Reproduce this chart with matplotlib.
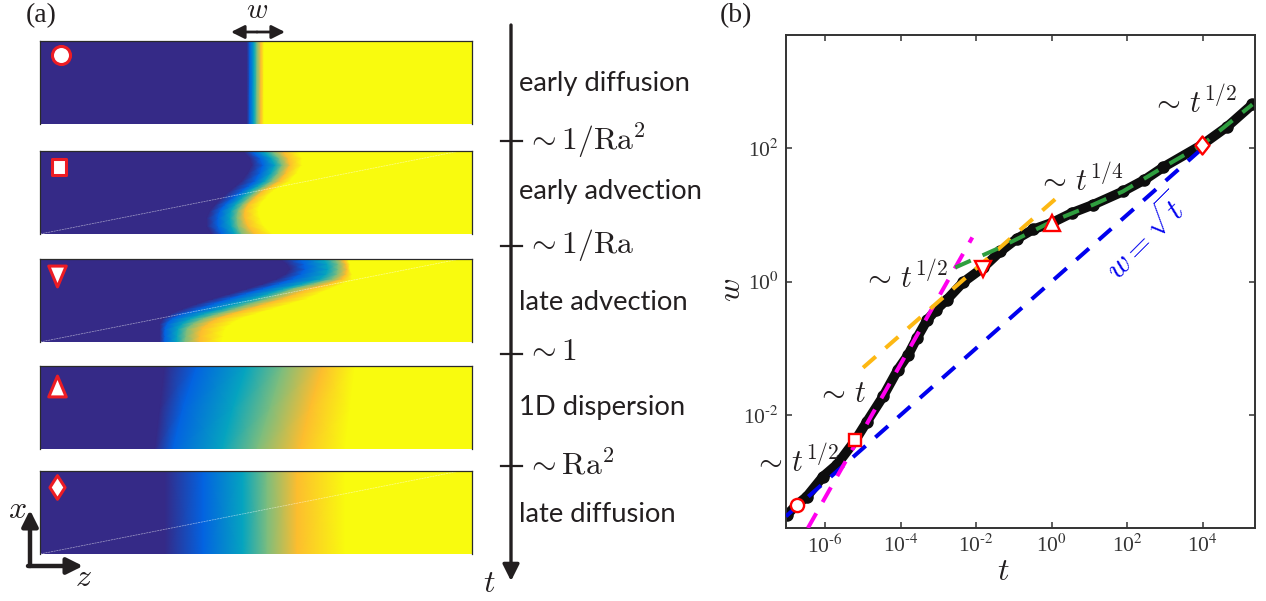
import numpy as np
from matplotlib import pyplot as plt
from matplotlib.colors import LinearSegmentedColormap
from matplotlib.path import Path

plt.rcParams['mathtext.fontset'] = 'cm'
plt.rcParams['font.family'] = ['Liberation Serif', 'DejaVu Sans']

W, H = 1266, 601

# (a) iso-level positions in z, one row per height x (bottom to top)
levels = [0, 0.125, 0.375, 0.625, 0.875, 1]
level_colors = ['#352a87', '#0363e1', '#05a5bf', '#7abd80', '#fdbb30', '#f9fb0e']

rows_1 = [0, 83]
front_1 = [[207, 210, 214, 217, 221, 224],
           [207, 210, 214, 217, 221, 224]]

rows_2 = [0, 8, 16, 23, 29, 36, 43, 48, 53, 61, 69, 76, 83]
front_2 = [[172, 182, 195, 202, 215, 233],
           [167, 178, 191, 198, 208, 224],
           [167, 178, 190, 197, 205, 220],
           [170, 180, 191, 198, 205, 218],
           [175, 185, 195, 202, 208, 220],
           [182, 193, 202, 209, 215, 226],
           [190, 202, 210, 217, 223, 233],
           [196, 209, 218, 225, 232, 242],
           [202, 215, 225, 232, 240, 250],
           [208, 220, 231, 238, 246, 257],
           [212, 223, 235, 242, 250, 262],
           [210, 220, 231, 239, 248, 262],
           [203, 212, 223, 232, 243, 258]]

rows_3 = [0, 6, 13, 18, 23, 28, 33, 38, 43, 48, 53, 58, 63, 68, 73, 78, 83]
front_3 = [[120, 125, 137, 145, 160, 182],
           [120, 125, 137, 146, 160, 183],
           [120, 125, 138, 147, 162, 185],
           [120, 127, 142, 153, 168, 191],
           [123, 132, 150, 163, 177, 200],
           [131, 144, 164, 178, 192, 216],
           [143, 160, 182, 195, 210, 233],
           [157, 174, 197, 210, 226, 250],
           [173, 190, 213, 227, 243, 267],
           [190, 206, 228, 240, 256, 278],
           [207, 223, 243, 253, 270, 290],
           [223, 239, 262, 274, 288, 302],
           [237, 253, 280, 292, 302, 312],
           [246, 261, 286, 297, 306, 312],
           [250, 265, 288, 298, 307, 310],
           [247, 264, 287, 298, 306, 310],
           [240, 260, 283, 295, 303, 308]]

rows_4 = [0, 41, 83]
front_4 = [[115, 133, 182, 217, 260, 305],
           [120, 143, 193, 230, 270, 310],
           [125, 157, 207, 243, 283, 315]]

rows_5 = [0, 83]
front_5 = [[125, 163, 203, 227, 257, 305],
           [125, 163, 203, 227, 257, 305]]

panel_tops = [41, 151, 259, 366, 471]
panel_has_seam = [False, True, True, False, True]
panel_rows = [rows_1, rows_2, rows_3, rows_4, rows_5]
panel_fronts = [front_1, front_2, front_3, front_4, front_5]

phase_names = ['early diffusion', 'early advection', 'late advection', '1D dispersion', 'late diffusion']
phase_y = [83, 190, 301, 407, 514]
scale_labels = [r'$\sim 1/\mathrm{Ra}^2$', r'$\sim 1/\mathrm{Ra}$', r'$\sim 1$', r'$\sim \mathrm{Ra}^2$']
scale_y = [141, 246, 354, 466]

# (b) log10 of t and w
log_t = [-7.0, -6.74, -6.48, -6.05, -5.68, -5.2, -4.89, -4.46, -4.07, -3.8, -3.56, -3.3, -3.05, -2.77,
         -2.34, -1.81, -1.36, -0.92, -0.49, 0.01, 0.55, 1.10, 1.89, 2.45, 2.95, 3.99, 4.65, 5.31]
log_w = [-3.49, -3.34, -3.22, -2.92, -2.74, -2.38, -2.10, -1.72, -1.32, -1.10, -0.84, -0.58, -0.42, -0.27,
         -0.01, 0.21, 0.45, 0.64, 0.78, 0.88, 1.03, 1.15, 1.35, 1.52, 1.71, 2.05, 2.32, 2.65]

blue_t, blue_w = [-7.03, 3.95], [-3.515, 1.975]
magenta_t, magenta_w = [-6.45, -2.1], [-3.69, 0.66]
orange_t, orange_w = [-4.99, 0.15], [-1.29, 1.26]
green_t = [-2.55, -1.36, 0.01, 1.10, 1.89, 2.95, 3.99, 5.31]
green_w = [0.21, 0.51, 0.90, 1.15, 1.35, 1.71, 2.05, 2.65]

marker_t = [-6.74, -5.2, -1.81, 0.01, 3.99]
marker_w = [-3.34, -2.38, 0.19, 0.87, 2.05]


def closed(verts):
    # a plain vertex list leaves the last edge of the marker unstroked
    return Path(verts + [verts[0]], closed=True)


# marker shapes, the stock triangle and diamond have the wrong proportions
tri_down = closed([(-0.42, 0.5), (0.42, 0.5), (0, -0.5)])
tri_up = closed([(-0.42, -0.5), (0.42, -0.5), (0, 0.5)])
narrow_diamond = closed([(0, 0.5), (0.32, 0), (0, -0.5), (-0.32, 0)])
square_tall = closed([(-0.44, -0.5), (0.44, -0.5), (0.44, 0.5), (-0.44, 0.5)])
curve_diamond = closed([(0, 0.5), (0.39, 0), (0, -0.5), (-0.39, 0)])

panel_markers = ['o', square_tall, tri_down, tri_up, narrow_diamond]
panel_marker_x = [21, 19, 17, 17, 17]
panel_marker_y = [69, 67, 66, 63, 67]
panel_marker_size = [13, 11, 15, 15, 17]

curve_markers = ['o', 's', 'v', '^', curve_diamond]
curve_marker_size = [9.5, 8.5, 11, 11, 13]

fig = plt.figure(figsize=(W / 100, H / 100), dpi=100)


def px_axes(x0, y0, x1, y1, **kw):
    return fig.add_axes([x0 / W, 1 - y1 / H, (x1 - x0) / W, (y1 - y0) / H], **kw)


cmap = LinearSegmentedColormap.from_list('parula_ish', list(zip(levels, level_colors)))

for i in range(5):
    ax = px_axes(40, panel_tops[i], 472, panel_tops[i] + 83)
    rows = np.array(panel_rows[i], dtype=float)
    fronts = np.array(panel_fronts[i], dtype=float)
    n = len(rows)
    X = np.column_stack([np.zeros(n), fronts, np.full(n, 432.0)])
    Y = np.repeat(rows[:, None], X.shape[1], axis=1)
    C = np.tile([0] + levels + [1], (n, 1))
    ax.pcolormesh(X, Y, C, shading='gouraud', cmap=cmap, vmin=0, vmax=1)
    if panel_has_seam[i]:
        ax.plot([0, 420], [0, 83], color='white', lw=0.5, ls=(0, (3, 1)), alpha=0.55)
    ax.plot(panel_marker_x[i], panel_marker_y[i], marker=panel_markers[i], mfc='white', mec='#ed1c24',
            ms=panel_marker_size[i], mew=2.2)
    ax.set_xlim(0, 432)
    ax.set_ylim(0, 83)
    ax.set_xticks([])
    ax.set_yticks([])
    ax.spines['bottom'].set_visible(False)
    for s in ['top', 'left', 'right']:
        ax.spines[s].set_linewidth(0.9)
        ax.spines[s].set_color('#2a2a2a')

# (b) scaling plot
ax_b = px_axes(786, 35, 1255, 528)
t_vals = 10.0 ** np.array(log_t)
w_vals = 10.0 ** np.array(log_w)
ax_b.plot(t_vals, w_vals, color='#0d0d0d', lw=7, marker='o', ms=8, mfc='#0d0d0d', mec='#0d0d0d',
          solid_capstyle='round', zorder=2)
dash = (0, (4.2, 3.2))
ax_b.plot(10.0 ** np.array(blue_t), 10.0 ** np.array(blue_w), color='#0000ee', lw=2.9, ls=dash, zorder=3)
ax_b.plot(10.0 ** np.array(magenta_t), 10.0 ** np.array(magenta_w), color='#ff00ee', lw=2.9, ls=dash, zorder=3)
ax_b.plot(10.0 ** np.array(orange_t), 10.0 ** np.array(orange_w), color='#fdb813', lw=2.9, ls=dash, zorder=3)
ax_b.plot(10.0 ** np.array(green_t), 10.0 ** np.array(green_w), color='#2f9e3f', lw=2.9, ls=dash, zorder=3)
for m, mt, mw, ms in zip(curve_markers, marker_t, marker_w, curve_marker_size):
    ax_b.plot(10.0 ** mt, 10.0 ** mw, marker=m, mfc='white', mec='#ff0000', ms=ms, mew=1.7, zorder=4)
ax_b.set_xscale('log')
ax_b.set_yscale('log')
ax_b.set_xlim(10.0 ** -7.03, 10.0 ** 5.38)
ax_b.set_ylim(10.0 ** -3.69, 10.0 ** 3.69)
ax_b.set_xticks(10.0 ** np.arange(-6, 5, 2))
ax_b.set_xticklabels([r'10$^{\text{%d}}$' % e if e >= 0 else r'10$^{\text{-%d}}$' % -e for e in range(-6, 5, 2)])
ax_b.set_yticks(10.0 ** np.arange(-2, 3, 2))
ax_b.set_yticklabels([r'10$^{\text{-2}}$', r'10$^{\text{0}}$', r'10$^{\text{2}}$'])
ax_b.minorticks_off()
ax_b.tick_params(which='major', direction='in', top=True, right=True, length=4.5, width=1.1,
                 color='#333333', labelsize=15.5, labelcolor='#333333', pad=5)
for lab in ax_b.get_xticklabels() + ax_b.get_yticklabels():
    lab.set_math_fontfamily('stix')
for s in ax_b.spines.values():
    s.set_linewidth(1.4)
    s.set_color('#333333')

# overlay in pixel coordinates for labels and arrows
ov = fig.add_axes([0, 0, 1, 1], zorder=10)
ov.set_xlim(0, W)
ov.set_ylim(H, 0)
ov.axis('off')
ov.patch.set_alpha(0)

ink = '#231f20'


def arrow(x0, y0, x1, y1, style='-|>', lw=2.0, scale=17):
    ov.annotate('', xy=(x1, y1), xytext=(x0, y0),
                arrowprops=dict(arrowstyle=style, color=ink, lw=lw, mutation_scale=scale,
                                shrinkA=0, shrinkB=0))


ov.text(41, 16, '(a)', fontsize=20, color=ink, ha='center', va='center')
ov.text(736, 16, '(b)', fontsize=20, color=ink, ha='center', va='center')
ov.text(257, 18, r'$w$', fontsize=21, color=ink, ha='center', va='baseline')
arrow(257, 32, 285, 32, lw=2.0, scale=20)
arrow(257, 32, 231, 32, lw=2.0, scale=20)

# time axis
arrow(511, 25, 511, 581, lw=2.4, scale=25)
for y, lab in zip(scale_y, scale_labels):
    ov.plot([501, 522], [y, y], color=ink, lw=1.6)
    ov.text(526, y - 1, lab, fontsize=22.8, color=ink, ha='left', va='center')
for y, name in zip(phase_y, phase_names):
    ov.text(519, y + 1, name, fontsize=19.7, family='Lato', color=ink, ha='left', va='center')
ov.text(489, 585, r'$t$', fontsize=23, color=ink, ha='center', va='center')

# x/z axes
arrow(30, 566, 30, 510, lw=3.2, scale=24)
arrow(28, 566, 83, 566, lw=3.2, scale=24)
ov.text(17, 510, r'$x$', fontsize=23, color=ink, ha='center', va='center')
ov.text(83, 578, r'$z$', fontsize=23, color=ink, ha='center', va='center')

# (b) labels
ov.text(1003, 572, r'$t$', fontsize=23, color=ink, ha='center', va='center')
ov.text(733, 290, r'$w$', fontsize=23, color=ink, ha='center', va='center', rotation=90)
exp_half = r'$\sim\,t^{1/2}$'
ov.text(796, 463, exp_half, fontsize=22, color=ink, ha='center', va='center')
ov.text(841, 394, r'$\sim\,t$', fontsize=22, color=ink, ha='center', va='center')
ov.text(905, 279, exp_half, fontsize=22, color=ink, ha='center', va='center')
ov.text(1080, 182, r'$\sim\,t^{1/4}$', fontsize=22, color=ink, ha='center', va='center')
ov.text(1194, 104, exp_half, fontsize=22, color=ink, ha='center', va='center')
ov.text(1147, 238, r'$w=\sqrt{t}$', fontsize=22.5, color='#0000ee', ha='center', va='center', rotation=45)

fig.savefig('out.png', dpi=100)
